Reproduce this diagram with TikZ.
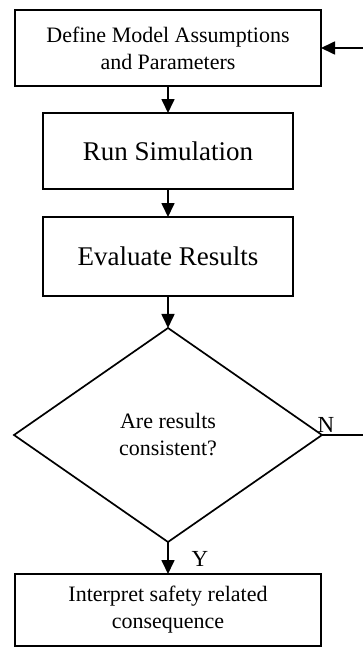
\documentclass[tikz,border=0pt]{standalone}
\usepackage{fontspec}
\setmainfont{Liberation Serif}
\usetikzlibrary{shapes.geometric,positioning,arrows.meta}

\begin{document}
\begin{tikzpicture}[x=1pt,y=-1pt,
      box/.style={rectangle,draw=black,line width=1.7pt,inner sep=0pt,outer sep=0pt,
                  align=center,minimum height=76pt},
      small/.style={font=\fontsize{22}{27}\selectfont},
      big/.style={font=\fontsize{27}{32}\selectfont},
      decision/.style={diamond,draw=black,line width=1.7pt,inner sep=0pt,outer sep=0pt,
                       align=center,minimum width=308pt,minimum height=214pt},
      flow/.style={draw,line width=1.7pt,-{Triangle[width=13pt,length=14pt]}},
      lbl/.style={font=\fontsize{23}{27}\selectfont,inner sep=0pt,anchor=base},
    ]
      \useasboundingbox (0,0) rectangle (362,648);
      \node[box,small,minimum width=306pt] (assume) at (168,48)
        {Define Model Assumptions\\and Parameters};
      \node[box,big,minimum width=250pt,below=27pt of assume] (simulate) {Run Simulation};
      \node[box,big,minimum width=250pt,minimum height=79pt,below=28pt of simulate] (evaluate)
        {Evaluate Results};
      \node[decision,small,below=32pt of evaluate] (check) {Are results\\consistent?};
      \node[box,small,minimum width=306pt,minimum height=72pt,below=32pt of check] (interpret)
        {Interpret safety related\\consequence};
      \coordinate (back) at (365,0);
      \path(assume) edge[flow] (simulate);
      \path(simulate) edge[flow] (evaluate);
      \path(evaluate) edge[flow] (check);
      \path(check) edge[flow] (interpret);
      \draw[flow] (check.east) -- (check.east -| back) |- (assume.east);
      \node[lbl] (no) at ([xshift=4pt,yshift=3pt]check.east) {N};
      \node[lbl] (yes) at ([xshift=32pt,yshift=8pt]interpret.north) {Y};
    \end{tikzpicture}
\end{document}
